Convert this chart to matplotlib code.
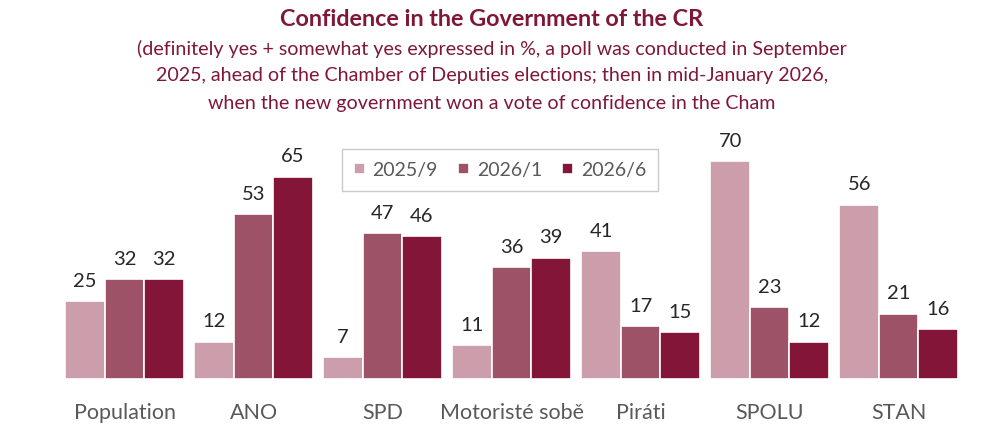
import numpy as np
import matplotlib.pyplot as plt

plt.rcParams['font.family'] = ['Lato', 'DejaVu Sans']

# data
categories = ['Population', 'ANO', 'SPD', 'Motoristé sobě', 'Piráti', 'SPOLU', 'STAN']
series_names = ['2025/9', '2026/1', '2026/6']
v_2025_9 = [25, 12, 7, 11, 41, 70, 56]
v_2026_1 = [32, 53, 47, 36, 17, 23, 21]
v_2026_6 = [32, 65, 46, 39, 15, 12, 16]

colors = ['#cc9dab', '#9e5268', '#831538']
title_color = '#7f1738'

W, H = 984, 446
fig = plt.figure(figsize=(W / 100, H / 100), dpi=100)

# axes placed in pixel coordinates
left, right, bottom, top = 60, 963, 379, 130
ax = fig.add_axes([left / W, (H - bottom) / H, (right - left) / W, (bottom - top) / H])

x = np.arange(len(categories))
bw = 0.305
for i, (vals, name) in enumerate(zip([v_2025_9, v_2026_1, v_2026_6], series_names)):
    bars = ax.bar(x + (i - 1) * bw, vals, bw, color=colors[i], edgecolor='white',
                  linewidth=1.2, label=name)
    for b, v in zip(bars, vals):
        ax.text(b.get_x() + b.get_width() / 2, v + 3.6, str(v), ha='center', va='bottom',
                fontsize=14.5, color='#262626')

ax.set_xlim(-0.5, len(categories) - 0.5)
ax.set_ylim(0, 80)
ax.set_xticks(x)
ax.set_xticklabels(categories, fontsize=15.5, color='#595959')
ax.tick_params(axis='x', length=0, pad=17)
ax.set_yticks([])
for s in ax.spines.values():
    s.set_visible(False)

leg = ax.legend(loc='center', bbox_to_anchor=((500 - left) / (right - left), (bottom - 170) / (bottom - top)),
                ncol=3, fontsize=14, frameon=True, fancybox=False, edgecolor='#bfbfbf',
                handlelength=0.55, handleheight=0.55, handletextpad=0.4, columnspacing=1.05,
                borderpad=0.62)
for t in leg.get_texts():
    t.set_color('#595959')

fig.text(0.5, 1 - 20 / H, 'Confidence in the Government of the CR', ha='center', va='center',
         fontsize=16.8, fontweight='bold', color=title_color)
sub = ['(definitely yes + somewhat yes expressed in %, a poll was conducted in September',
       '2025, ahead of the Chamber of Deputies elections; then in mid-January 2026,',
       'when the new government won a vote of confidence in the Cham']
for k, line in enumerate(sub):
    fig.text(0.5, 1 - (49 + 27 * k) / H, line, ha='center', va='center', fontsize=14.1,
             color=title_color)

fig.savefig('out.png', dpi=100)
